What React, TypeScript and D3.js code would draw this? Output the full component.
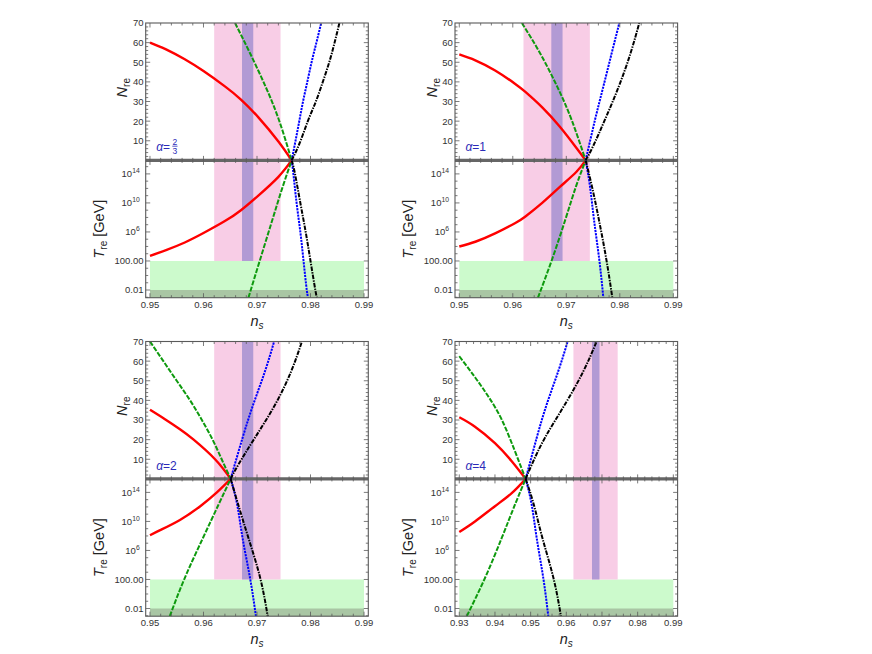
import * as d3 from "d3";

type Pt = [number, number];

// ---- axis ticks / ranges ----
const NS_TICKS_STD = [0.95, 0.96, 0.97, 0.98, 0.99];
const NS_TICKS_WIDE = [0.93, 0.94, 0.95, 0.96, 0.97, 0.98, 0.99];
const N_TICKS = [10, 20, 30, 40, 50, 60, 70];
const LOGT_TICKS = [-2, 2, 6, 10, 14];
const LOGT_TICK_BASE = ["0.01", "100.00", "10", "10", "10"];
const LOGT_TICK_SUP = ["", "", "6", "10", "14"];
const N_DOMAIN = [0, 70];
const LOGT_DOMAIN = [-3.06, 15.86];

// ---- shaded bands ----
const NS_BAND_WIDE = [0.962, 0.9744];
const NS_BAND_NARROW = [0.9672, 0.9693];
const LOGT_BAND_TOP = 2; // 100 GeV
const LOGT_BAND_LOW = -2; // 0.01 GeV
const NS_BAND_END = 0.99;

// ---- curves: [n_s, N_re] and [n_s, log10 T_re] ----
// alpha = 2/3
const A23_RED_N: Pt[] = [[0.95, 60], [0.953, 56.55], [0.9565, 51.5], [0.96, 45.5], [0.964, 37.7], [0.967, 31.0], [0.9703, 21.8], [0.974, 9.6], [0.97648, 0]];
const A23_RED_T: Pt[] = [[0.95, 2.7], [0.953, 3.5], [0.9565, 4.55], [0.96, 5.85], [0.964, 7.5], [0.967, 9.0], [0.9703, 11.05], [0.974, 13.6], [0.97648, 15.86]];
const A23_GREEN_N: Pt[] = [[0.9659, 70], [0.9687, 54.6], [0.9716, 37.6], [0.9741, 20.6], [0.97648, 0]];
const A23_GREEN_T: Pt[] = [[0.9684, -3.06], [0.9705, 2.0], [0.9728, 7.5], [0.9747, 12.0], [0.97648, 15.86]];
const A23_BLUE_N: Pt[] = [[0.97648, 0], [0.9772, 10], [0.9779, 20], [0.9786, 30], [0.9794, 40], [0.9802, 50], [0.9811, 60], [0.982, 70]];
const A23_BLUE_T: Pt[] = [[0.97648, 15.86], [0.9768, 14], [0.9774, 10], [0.9781, 6], [0.9787, 2], [0.9793, -2], [0.9796, -3.06]];
const A23_BLACK_N: Pt[] = [[0.97648, 0], [0.978, 9], [0.9795, 20], [0.981, 30], [0.9823, 40], [0.9835, 50], [0.9845, 60], [0.9854, 70]];
const A23_BLACK_T: Pt[] = [[0.97648, 15.86], [0.9771, 14], [0.9781, 10], [0.9791, 6], [0.98, 2], [0.9809, -2], [0.9812, -3.06]];

// alpha = 1
const A1_RED_N: Pt[] = [[0.95, 54.0], [0.953, 51.0], [0.9567, 45.8], [0.9604, 39.1], [0.9623, 35.0], [0.9655, 27.0], [0.9688, 17.1], [0.9719, 6.3], [0.97362, 0]];
const A1_RED_T: Pt[] = [[0.95, 4.0], [0.953, 4.65], [0.9567, 5.8], [0.9604, 7.2], [0.9623, 8.1], [0.9655, 10.0], [0.9688, 12.2], [0.9719, 14.3], [0.97362, 15.86]];
const A1_GREEN_N: Pt[] = [[0.9617, 70], [0.9651, 54.6], [0.9683, 37.6], [0.971, 20.6], [0.97362, 0]];
const A1_GREEN_T: Pt[] = [[0.9647, -3.06], [0.9673, 2.14], [0.9698, 7.66], [0.9718, 12.25], [0.97362, 15.86]];
const A1_BLUE_N: Pt[] = [[0.97362, 0], [0.97536, 20.6], [0.97692, 37.6], [0.97848, 54.6], [0.97991, 70]];
const A1_BLUE_T: Pt[] = [[0.97362, 15.86], [0.97443, 12.25], [0.97518, 7.66], [0.97617, 2.14], [0.97692, -3.06]];
const A1_BLACK_N: Pt[] = [[0.97362, 0], [0.975, 7.2], [0.9772, 20.6], [0.9798, 37.6], [0.982, 54.6], [0.98364, 70]];
const A1_BLACK_T: Pt[] = [[0.97362, 15.86], [0.9748, 12.25], [0.9761, 7.66], [0.9775, 2.14], [0.9786, -3.06]];

// alpha = 2
const A2_RED_N: Pt[] = [[0.95, 35.2], [0.9528, 30.4], [0.9556, 25.3], [0.9581, 20.1], [0.9622, 9.9], [0.96508, 0]];
const A2_RED_T: Pt[] = [[0.95, 8.1], [0.9519, 8.8], [0.9556, 10.2], [0.9594, 12.1], [0.9625, 14.0], [0.96508, 15.86]];
const A2_GREEN_N: Pt[] = [[0.95, 70], [0.9525, 60], [0.955, 50], [0.9575, 40], [0.9597, 30], [0.9617, 20], [0.9634, 10], [0.96508, 0]];
const A2_GREEN_T: Pt[] = [[0.9537, -3.06], [0.9565, 2.2], [0.9599, 7.72], [0.9628, 12.3], [0.96508, 15.86]];
const A2_BLUE_N: Pt[] = [[0.96508, 0], [0.9673, 20.9], [0.9693, 37.9], [0.9715, 54.9], [0.9732, 70]];
const A2_BLUE_T: Pt[] = [[0.96508, 15.86], [0.9663, 12.3], [0.9673, 7.72], [0.9687, 2.2], [0.9698, -3.06]];
const A2_BLACK_N: Pt[] = [[0.96508, 0], [0.9665, 7.2], [0.9696, 20.9], [0.9734, 37.9], [0.9764, 54.9], [0.9784, 70]];
const A2_BLACK_T: Pt[] = [[0.96508, 15.86], [0.9665, 12.3], [0.9684, 7.72], [0.9706, 2.2], [0.972, -3.06]];

// alpha = 4
const A4_RED_N: Pt[] = [[0.93, 31.4], [0.9344, 26.6], [0.94, 18.2], [0.9447, 9.0], [0.94861, 0]];
const A4_RED_T: Pt[] = [[0.93, 8.55], [0.9344, 10.0], [0.94, 12.1], [0.9447, 13.9], [0.94861, 15.86]];
const A4_GREEN_N: Pt[] = [[0.93, 62.5], [0.9344, 51.8], [0.9381, 42.1], [0.9419, 30.2], [0.9456, 14.1], [0.94861, 0]];
const A4_GREEN_T: Pt[] = [[0.9321, -3.06], [0.9372, 2.2], [0.9419, 7.72], [0.9456, 12.3], [0.94861, 15.86]];
const A4_BLUE_N: Pt[] = [[0.94861, 0], [0.9517, 20.9], [0.9545, 37.9], [0.95775, 54.9], [0.96039, 70]];
const A4_BLUE_T: Pt[] = [[0.94861, 15.86], [0.9503, 12.3], [0.9517, 7.72], [0.95355, 2.2], [0.95495, -3.06]];
const A4_BLACK_N: Pt[] = [[0.94861, 0], [0.9503, 7.2], [0.954, 20.9], [0.9596, 37.9], [0.9648, 54.9], [0.9685, 70]];
const A4_BLACK_T: Pt[] = [[0.94861, 15.86], [0.9509, 12.3], [0.9533, 7.72], [0.9564, 2.2], [0.9585, -3.06]];

const STYLES = [
  { color: "#ff0000", width: 2.4, dash: "none" },
  { color: "#0e9a0e", width: 2.0, dash: "5 1.5" },
  { color: "#0000ff", width: 2.0, dash: "2.2 1" },
  { color: "#000000", width: 2.0, dash: "4.5 1.2 1.4 1.2" },
];

const PANELS = [
  { id: "a23", alpha: "2/3", ticks: NS_TICKS_STD, nCurves: [A23_RED_N, A23_GREEN_N, A23_BLUE_N, A23_BLACK_N], tCurves: [A23_RED_T, A23_GREEN_T, A23_BLUE_T, A23_BLACK_T] },
  { id: "a1", alpha: "1", ticks: NS_TICKS_STD, nCurves: [A1_RED_N, A1_GREEN_N, A1_BLUE_N, A1_BLACK_N], tCurves: [A1_RED_T, A1_GREEN_T, A1_BLUE_T, A1_BLACK_T] },
  { id: "a2", alpha: "2", ticks: NS_TICKS_STD, nCurves: [A2_RED_N, A2_GREEN_N, A2_BLUE_N, A2_BLACK_N], tCurves: [A2_RED_T, A2_GREEN_T, A2_BLUE_T, A2_BLACK_T] },
  { id: "a4", alpha: "4", ticks: NS_TICKS_WIDE, nCurves: [A4_RED_N, A4_GREEN_N, A4_BLUE_N, A4_BLACK_N], tCurves: [A4_RED_T, A4_GREEN_T, A4_BLUE_T, A4_BLACK_T] },
];

const FONT = "'Liberation Sans', Arial, Helvetica, sans-serif";
const FRAME = "#5a5a5a";
const LABEL = "#333";

function Panel({ cfg, index }: { cfg: (typeof PANELS)[number]; index: number }) {
  const col = index % 2;
  const row = Math.floor(index / 2);
  const frameL = col ? 455.0 : 145.7;
  const frameR = frameL + 222.6;
  const yOff = row ? 318.5 : 0;
  const top = 23 + yOff;
  const mid = 160.4 + yOff;
  const bot = 297.7 + yOff;

  const nsMin = cfg.ticks[0];
  const nsMax = cfg.ticks[cfg.ticks.length - 1];
  const pad = 0.02 * (nsMax - nsMin);
  const x = d3.scaleLinear().domain([nsMin - pad, nsMax + pad]).range([frameL, frameR]);
  const yN = d3.scaleLinear().domain(N_DOMAIN).range([mid, top]);
  const yT = d3.scaleLinear().domain(LOGT_DOMAIN).range([bot, mid]);

  const lineN = d3.line<Pt>().x((d) => x(d[0])).y((d) => yN(d[1])).curve(d3.curveNatural);
  const lineT = d3.line<Pt>().x((d) => x(d[0])).y((d) => yT(d[1])).curve(d3.curveNatural);

  const minorX = d3.range(Math.round(nsMin * 500), Math.round(nsMax * 500) + 1).map((k) => k / 500);
  const minorN = d3.range(2, 70, 2);
  const minorT = d3.range(-3, 16, 1);
  const MAJ = 4.5;
  const MIN = 2.5;

  const clipN = `clipN-${cfg.id}`;
  const clipT = `clipT-${cfg.id}`;

  const vTick = (xv: number, y0: number, len: number, k: string) => (
    <line key={k} x1={xv} x2={xv} y1={y0} y2={y0 + len} stroke={FRAME} strokeWidth={0.8} />
  );
  const hTick = (yv: number, x0: number, len: number, k: string) => (
    <line key={k} x1={x0} x2={x0 + len} y1={yv} y2={yv} stroke={FRAME} strokeWidth={0.8} />
  );

  const frac = cfg.alpha.split("/");

  return (
    <g>
      <defs>
        <clipPath id={clipN}>
          <rect x={frameL} y={top} width={frameR - frameL} height={mid - top} />
        </clipPath>
        <clipPath id={clipT}>
          <rect x={frameL} y={mid} width={frameR - frameL} height={bot - mid} />
        </clipPath>
      </defs>

      {/* bands */}
      <rect x={x(nsMin)} y={yT(LOGT_BAND_TOP)} width={x(NS_BAND_END) - x(nsMin)} height={bot - yT(LOGT_BAND_TOP)} fill="#ccfacc" />
      <rect x={x(nsMin)} y={yT(LOGT_BAND_LOW)} width={x(NS_BAND_END) - x(nsMin)} height={bot - yT(LOGT_BAND_LOW)} fill="#a9c6a4" />
      <rect x={x(NS_BAND_WIDE[0])} y={top} width={x(NS_BAND_WIDE[1]) - x(NS_BAND_WIDE[0])} height={yT(LOGT_BAND_TOP) - top} fill="#f8cde6" />
      <rect x={x(NS_BAND_NARROW[0])} y={top} width={x(NS_BAND_NARROW[1]) - x(NS_BAND_NARROW[0])} height={yT(LOGT_BAND_TOP) - top} fill="#b29ad4" />

      {/* divider */}
      <line x1={frameL} x2={frameR} y1={mid} y2={mid} stroke="#666" strokeWidth={3.2} />

      {/* curves */}
      <g clipPath={`url(#${clipN})`}>
        {cfg.nCurves.map((c, i) => (
          <path key={i} d={lineN(c) ?? ""} fill="none" stroke={STYLES[i].color} strokeWidth={STYLES[i].width}
            strokeDasharray={STYLES[i].dash} />
        ))}
      </g>
      <g clipPath={`url(#${clipT})`}>
        {cfg.tCurves.map((c, i) => (
          <path key={i} d={lineT(c) ?? ""} fill="none" stroke={STYLES[i].color} strokeWidth={STYLES[i].width}
            strokeDasharray={STYLES[i].dash} />
        ))}
      </g>

      {/* frame */}
      <rect x={frameL} y={top} width={frameR - frameL} height={bot - top} fill="none" stroke={FRAME} strokeWidth={1.1} />

      {/* x ticks: top, middle, bottom */}
      {minorX.map((v, i) => {
        const major = cfg.ticks.some((t) => Math.abs(t - v) < 1e-6);
        const len = major ? MAJ : MIN;
        const xv = x(v);
        return (
          <g key={`x${i}`}>
            {vTick(xv, top, len, "t")}
            {vTick(xv, mid - len, 2 * len, "m")}
            {vTick(xv, bot, -len, "b")}
          </g>
        );
      })}

      {/* N ticks */}
      {minorN.map((v) => {
        const len = v % 10 === 0 ? MAJ : MIN;
        return (
          <g key={`n${v}`}>
            {hTick(yN(v), frameL, len, "l")}
            {hTick(yN(v), frameR, -len, "r")}
          </g>
        );
      })}
      {/* T ticks */}
      {minorT.map((v) => {
        const len = LOGT_TICKS.includes(v) ? MAJ : MIN;
        return (
          <g key={`t${v}`}>
            {hTick(yT(v), frameL, len, "l")}
            {hTick(yT(v), frameR, -len, "r")}
          </g>
        );
      })}

      {/* tick labels */}
      <g fontFamily={FONT} fontSize={9.5} fill={LABEL}>
        {cfg.ticks.map((t) => (
          <text key={`xl${t}`} x={x(t)} y={bot + 10} textAnchor="middle">
            {t.toFixed(2)}
          </text>
        ))}
        {N_TICKS.map((t) => (
          <text key={`nl${t}`} x={frameL - 2.2} y={yN(t) + 3.4} textAnchor="end">
            {t}
          </text>
        ))}
        {LOGT_TICKS.map((t, i) => (
          <text key={`tl${t}`} x={frameL - (LOGT_TICK_SUP[i] ? 6 : 2.2)} y={yT(t) + 3.4} textAnchor="end">
            {LOGT_TICK_BASE[i]}
            {LOGT_TICK_SUP[i] && (
              <tspan dy={-4.2} fontSize={6.8}>
                {LOGT_TICK_SUP[i]}
              </tspan>
            )}
          </text>
        ))}
      </g>

      {/* axis titles */}
      <g fontFamily={FONT} fill="#222">
        <text transform={`translate(${frameL - 18.4},${(top + mid) / 2 - 4}) rotate(-90)`} textAnchor="middle" fontSize={14.5}>
          <tspan fontStyle="italic">N</tspan>
          <tspan fontSize={10} dy={3}>re</tspan>
        </text>
        <text transform={`translate(${frameL - 42},${(mid + bot) / 2}) rotate(-90)`} textAnchor="middle" fontSize={14.5}>
          <tspan fontStyle="italic">T</tspan>
          <tspan fontSize={10} dy={3}>re</tspan>
          <tspan dy={-3}>{" [GeV]"}</tspan>
        </text>
        <text x={(frameL + frameR) / 2} y={bot + 28} textAnchor="middle" fontSize={14.5}>
          <tspan fontStyle="italic">n</tspan>
          <tspan fontSize={10} dy={3} fontStyle="italic">s</tspan>
        </text>
      </g>

      {/* alpha label */}
      <g fontFamily={FONT} fill="#2b2bb8">
        <text x={frameL + 10.5} y={mid - 9.4} fontSize={12}>
          <tspan fontStyle="italic">α</tspan>
          {frac.length > 1 ? "=" : `=${cfg.alpha}`}
        </text>
        {frac.length > 1 && (
          <g>
            <text x={frameL + 29.2} y={mid - 15.8} fontSize={8.5} textAnchor="middle">
              {frac[0]}
            </text>
            <line x1={frameL + 26.6} x2={frameL + 31.8} y1={mid - 14.2} y2={mid - 14.2} stroke="#2b2bb8" strokeWidth={0.8} />
            <text x={frameL + 29.2} y={mid - 6.6} fontSize={8.5} textAnchor="middle">
              {frac[1]}
            </text>
          </g>
        )}
      </g>
    </g>
  );
}

export default function App() {
  return (
    <svg width={872} height={654} style={{ position: "absolute", left: 0, top: 0, background: "#fff" }}>
      {PANELS.map((p, i) => (
        <Panel key={p.id} cfg={p} index={i} />
      ))}
    </svg>
  );
}
